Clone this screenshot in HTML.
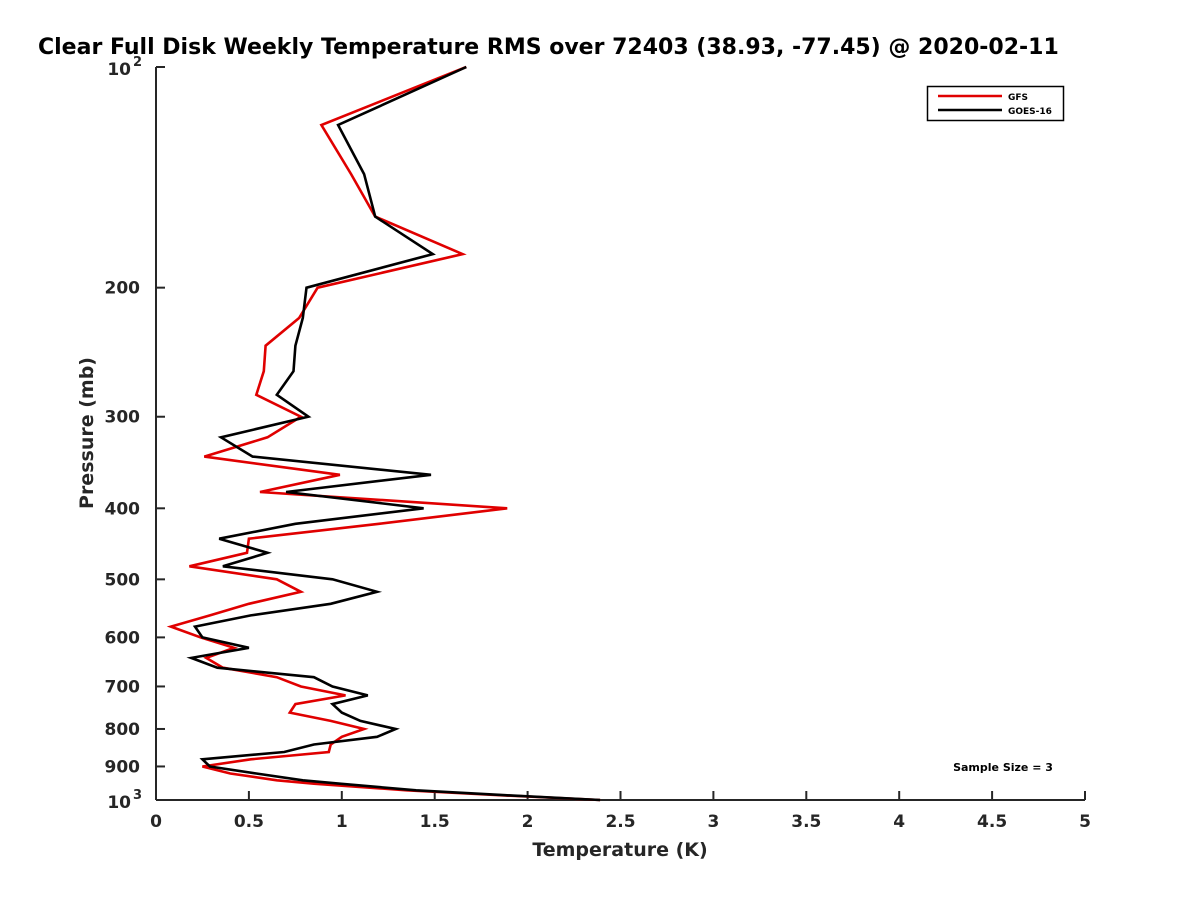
<!DOCTYPE html>
<html><head><meta charset="utf-8"><style>
body{margin:0;background:#fff;overflow:hidden;}
svg{display:block;font-family:"DejaVu Sans","Liberation Sans",sans-serif;}
</style></head><body>
<svg id="chart" width="1200" height="900">
<text x="38" y="54" font-size="22" font-weight="bold" fill="#000">Clear Full Disk Weekly Temperature RMS over 72403 (38.93, -77.45) @ 2020-02-11</text>
<g id="axes"></g>
<g id="series"></g>
<g>
<rect x="927.5" y="86.5" width="136" height="34" fill="#fff" stroke="#000" stroke-width="1.5"/>
<line x1="938" y1="96" x2="1002" y2="96" stroke="#e00000" stroke-width="2.5"/>
<text x="1008" y="100" font-size="9" font-weight="bold">GFS</text>
<line x1="938" y1="110" x2="1002" y2="110" stroke="#000" stroke-width="2.5"/>
<text x="1008" y="114" font-size="9" font-weight="bold">GOES-16</text>
</g>
<text x="1003" y="771" font-size="11" font-weight="bold" text-anchor="middle">Sample Size = 3</text>
</svg>
<script>
const pressures=[100,120,140,160,180,200,220,240,260,280,300,320,340,360,380,400,420,440,460,480,500,520,540,560,580,600,620,640,660,680,700,720,740,760,780,800,820,840,860,880,900,920,940,950,970,985,1000];
const goesValues=[1.67,0.98,1.12,1.18,1.49,0.81,0.79,0.75,0.74,0.65,0.82,0.35,0.52,1.48,0.70,1.44,0.75,0.34,0.60,0.36,0.95,1.19,0.94,0.51,0.21,0.25,0.50,0.19,0.33,0.85,0.95,1.14,0.95,1.00,1.10,1.29,1.19,0.85,0.69,0.25,0.29,0.54,0.79,0.99,1.40,1.88,2.39];
const gfsValues=[1.67,0.89,1.05,1.18,1.65,0.87,0.77,0.59,0.58,0.54,0.78,0.60,0.26,0.99,0.56,1.89,1.20,0.50,0.49,0.18,0.65,0.78,0.50,0.29,0.08,0.24,0.42,0.27,0.36,0.65,0.78,1.02,0.75,0.72,0.94,1.12,1.00,0.94,0.93,0.51,0.25,0.40,0.65,0.85,1.35,1.85,2.39];
const xTicks=[0,0.5,1,1.5,2,2.5,3,3.5,4,4.5,5];
const yTicks=[200,300,400,500,600,700,800,900];

const NS="http://www.w3.org/2000/svg";
const X0=156,X1=1085,Y0=67,Y1=800;
function xs(v){return X0+(v/5)*(X1-X0);}
function ys(p){return Y0+Math.log10(p/100)*(Y1-Y0);}
function mk(tag,attrs,parent){const e=document.createElementNS(NS,tag);for(const k in attrs)e.setAttribute(k,attrs[k]);parent.appendChild(e);return e;}
const axes=document.getElementById('axes');
const series=document.getElementById('series');
let el=mk('line',{x1:X0,y1:Y0,x2:X0,y2:Y1,stroke:'#262626','stroke-width':2},axes);


el=mk('line',{x1:X0,y1:Y1,x2:X1,y2:Y1,stroke:'#262626','stroke-width':2},axes);


xTicks.forEach(v=>{
  const t=mk('line',{x1:xs(v),y1:Y1,x2:xs(v),y2:Y1-9,stroke:'#262626','stroke-width':2},axes);
  
  
  const l=mk('text',{x:xs(v),y:Y1+27,'font-size':17,'font-weight':'bold','text-anchor':'middle',fill:'#262626'},axes);
  l.textContent=String(v);
  
  
});
[100].concat(yTicks).concat([1000]).forEach(p=>{
  const t=mk('line',{x1:X0,y1:ys(p),x2:X0+9,y2:ys(p),stroke:'#262626','stroke-width':2},axes);
  
  
});
yTicks.forEach(p=>{
  const l=mk('text',{x:X0-16,y:ys(p)+6,'font-size':17,'font-weight':'bold','text-anchor':'end',fill:'#262626'},axes);
  l.textContent=String(p);
  
  
});
[[100,'2'],[1000,'3']].forEach(([p,e])=>{
  const l=mk('text',{x:X0-25,y:ys(p)+8,'font-size':17,'font-weight':'bold','text-anchor':'end',fill:'#262626'},axes);
  l.textContent='10';
  
  
  const s=mk('text',{x:X0-23,y:ys(p)-1,'font-size':13,'font-weight':'bold',fill:'#262626'},axes);
  s.textContent=e;
  
  
});
el=mk('text',{x:620,y:856,'font-size':19,'font-weight':'bold','text-anchor':'middle',fill:'#262626'},axes);
el.textContent='Temperature (K)';


el=mk('text',{x:93,y:433,'font-size':19,'font-weight':'bold','text-anchor':'middle',fill:'#262626',transform:'rotate(-90 93 433)'},axes);
el.textContent='Pressure (mb)';


function line(vals,color,name){
  const pts=vals.map((v,i)=>xs(v).toFixed(1)+','+ys(pressures[i]).toFixed(1)).join(' ');
  const pl=mk('polyline',{points:pts,fill:'none',stroke:color,'stroke-width':2.6,'stroke-linejoin':'miter'},series);
  
  
}
line(gfsValues,'#e00000','gfs-line');
line(goesValues,'#000','goes16-line');
</script>
</body></html>
